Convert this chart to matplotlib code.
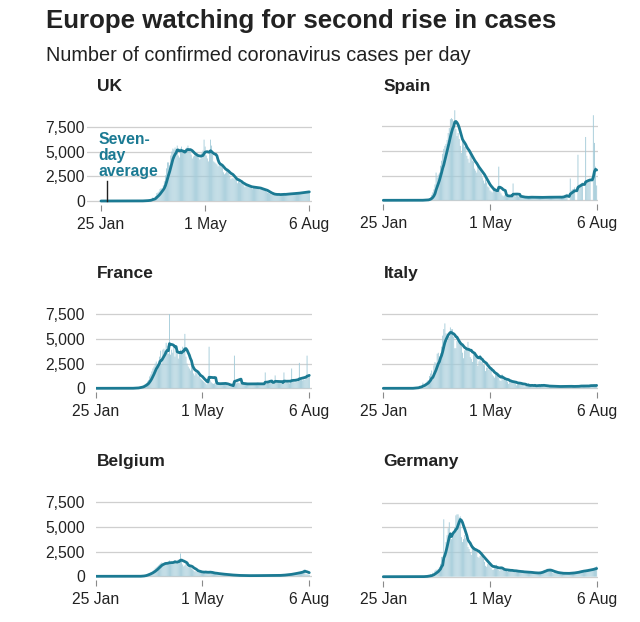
import matplotlib.pyplot as plt
import matplotlib.dates as mdates
import pandas as pd

plt.rcParams['font.family'] = ['Liberation Sans', 'DejaVu Sans']

# one value per day, 25 Jan - 6 Aug 2020 (rows are weeks starting on a Saturday)
dates = pd.date_range('2020-01-25', '2020-08-06')
tick_dates = pd.to_datetime(['2020-01-25', '2020-05-01', '2020-08-06'])
tick_labels = ['25 Jan', '1 May', '6 Aug']
y_ticks = [0, 2500, 5000, 7500]
y_tick_labels = ['0', '2,500', '5,000', '7,500']

uk_daily = [
    0, 0, 0, 0, 0, 0, 2,
    0, 0, 0, 0, 0, 1, 0,
    0, 0, 0, 1, 0, 0, 0,
    0, 0, 0, 0, 0, 0, 0,
    0, 0, 0, 0, 4, 0, 7,
    3, 12, 4, 11, 34, 30, 48,
    43, 67, 46, 83, 134, 208, 342,
    300, 250, 500, 800, 850, 950, 1200,
    1300, 1200, 1600, 2000, 2600, 3300, 3900,
    3900, 3600, 4600, 5000, 5300, 5200, 5400,
    5000, 5600, 4600, 4400, 5300, 5500, 4900,
    5000, 4800, 5300, 5400, 5600, 5200, 5100,
    4700, 4300, 4500, 4600, 4900, 4800, 4500,
    4400, 4200, 4300, 4900, 5100, 6200, 5500,
    4600, 4300, 4000, 4800, 6200, 5600, 4700,
    4000, 3900, 3800, 3700, 3500, 3600, 3700,
    3600, 3400, 2900, 2700, 2800, 3000, 3300,
    3000, 2600, 2200, 2300, 2300, 2200, 2400,
    2100, 1800, 2000, 1900, 1800, 1800, 1700,
    1600, 1400, 1500, 1600, 1500, 1500, 1400,
    1300, 1200, 1400, 1500, 1400, 1350, 1300,
    1200, 1100, 1250, 1200, 1150, 1100, 1050,
    950, 850, 800, 750, 700, 650, 700,
    650, 600, 700, 650, 700, 650, 600,
    700, 650, 720, 700, 680, 740, 700,
    750, 700, 780, 760, 740, 800, 780,
    800, 780, 850, 820, 840, 860, 880,
    900, 880, 950, 920, 960, 980,
]

spain_daily = [
    0, 0, 0, 0, 0, 0, 1,
    0, 0, 0, 0, 0, 0, 0,
    0, 1, 0, 0, 0, 0, 0,
    0, 0, 0, 0, 0, 0, 0,
    0, 0, 0, 0, 4, 8, 11,
    13, 6, 40, 56, 54, 45, 80,
    200, 300, 550, 800, 1100, 1600, 2800,
    2300, 2600, 2800, 3500, 4000, 4700, 5200,
    5500, 5700, 6100, 6800, 7300, 8200, 8300,
    8200, 7500, 9100, 7200, 6500, 6800, 6200,
    5500, 4800, 6200, 5800, 5400, 5500, 4500,
    4200, 3800, 4800, 4500, 4000, 3900, 3200,
    3000, 2800, 3500, 3200, 2900, 2700, 2300,
    2000, 1700, 2100, 1800, 1400, 1300, 1000,
    900, 800, 1100, 1000, 1200, 900, 800,
    3400, 900, 700, 500, 400, 500, 450,
    400, 350, 500, 450, 500, 400, 1700,
    450, 400, 500, 450, 400, 350, 300,
    300, 250, 350, 300, 350, 300, 250,
    350, 300, 350, 320, 300, 280, 250,
    300, 280, 320, 330, 300, 290, 280,
    320, 300, 350, 330, 310, 300, 290,
    300, 330, 350, 340, 320, 310, 300,
    300, 280, 400, 450, 550, 600, 650,
    0, 0, 2200, 1000, 1100, 1150, 1300,
    0, 0, 4600, 1600, 1500, 1700, 1800,
    0, 0, 6400, 2000, 1900, 2000, 2100,
    0, 0, 8600, 5800, 3400, 1500,
]

france_daily = [
    0, 0, 3, 0, 0, 1, 1,
    0, 0, 0, 0, 0, 0, 0,
    5, 0, 0, 0, 0, 0, 0,
    0, 0, 0, 0, 0, 0, 0,
    0, 0, 0, 2, 4, 20, 19,
    43, 30, 61, 21, 73, 138, 190,
    200, 250, 350, 450, 550, 700, 850,
    1200, 1400, 1700, 2000, 2200, 2500, 2700,
    2400, 2800, 3200, 3800, 2500, 3900, 4000,
    3800, 4600, 4300, 3500, 7500, 3400, 3900,
    3600, 4100, 3200, 3800, 3900, 3000, 3600,
    3900, 3700, 4200, 4000, 5500, 3200, 2500,
    2200, 2000, 1800, 2300, 2100, 1500, 1300,
    1600, 1500, 1200, 1300, 1000, 900, 800,
    700, 600, 500, 400, 600, 4200, 800,
    600, 500, 450, 500, 400, 450, 500,
    500, 450, 500, 550, 500, 450, 500,
    350, 300, 250, 200, 300, 250, 200,
    3300, 600, 500, 600, 550, 500, 450,
    450, 400, 450, 500, 450, 400, 450,
    400, 450, 500, 450, 400, 450, 500,
    450, 400, 500, 450, 400, 450, 500,
    1600, 450, 550, 600, 700, 650, 600,
    600, 500, 1300, 550, 600, 650, 600,
    550, 500, 600, 1600, 600, 550, 600,
    550, 500, 650, 2000, 700, 650, 600,
    700, 650, 800, 2570, 900, 850, 800,
    900, 850, 1000, 3300, 1100, 1200,
]

italy_daily = [
    0, 0, 0, 0, 0, 0, 2,
    0, 0, 0, 0, 0, 1, 0,
    0, 0, 0, 0, 0, 0, 0,
    0, 0, 0, 0, 0, 0, 17,
    62, 55, 74, 93, 78, 250, 238,
    240, 566, 342, 466, 587, 769, 778,
    1247, 1492, 1797, 977, 2313, 2651, 2547,
    3497, 3590, 3233, 3526, 4207, 5322, 5986,
    6557, 5560, 4789, 5249, 5210, 6153, 5959,
    5974, 5217, 4050, 4053, 4782, 4668, 4585,
    4805, 4316, 3599, 3039, 3836, 4204, 3951,
    4694, 4092, 3153, 2972, 2667, 3786, 3493,
    3491, 3047, 2256, 2729, 3370, 2646, 3021,
    2357, 2324, 1739, 2091, 2086, 1872, 1965,
    1900, 1389, 1221, 1075, 1444, 1401, 1327,
    1083, 802, 744, 1402, 888, 992, 789,
    875, 675, 451, 813, 665, 642, 652,
    669, 531, 300, 397, 584, 593, 516,
    416, 355, 178, 318, 321, 177, 518,
    270, 197, 280, 283, 202, 379, 163,
    346, 338, 301, 210, 329, 333, 251,
    262, 224, 221, 113, 190, 296, 259,
    175, 174, 126, 142, 187, 201, 223,
    235, 192, 208, 138, 193, 229, 276,
    188, 234, 169, 114, 162, 230, 233,
    249, 219, 190, 129, 282, 306, 252,
    275, 255, 170, 181, 212, 289, 386,
    379, 295, 239, 159, 190, 384,
]

belgium_daily = [
    0, 0, 0, 0, 0, 0, 0,
    0, 0, 0, 1, 0, 0, 0,
    0, 0, 0, 0, 0, 0, 0,
    0, 0, 0, 0, 0, 0, 0,
    0, 0, 0, 0, 0, 0, 0,
    0, 0, 1, 6, 5, 10, 27,
    50, 60, 80, 120, 180, 250, 300,
    350, 400, 450, 550, 650, 800, 900,
    1000, 1100, 1200, 1300, 1400, 1300, 1250,
    1400, 1300, 1200, 1500, 1600, 1400, 1300,
    1400, 1500, 1600, 1300, 1500, 1700, 1500,
    2300, 1600, 1200, 1000, 1100, 1300, 1000,
    900, 1000, 1100, 800, 700, 600, 500,
    500, 450, 400, 600, 450, 350, 300,
    450, 400, 500, 450, 400, 350, 400,
    350, 300, 280, 300, 250, 300, 250,
    250, 200, 220, 200, 180, 190, 170,
    160, 150, 140, 130, 120, 110, 100,
    100, 90, 80, 90, 85, 80, 75,
    70, 65, 75, 70, 60, 65, 70,
    70, 60, 75, 80, 70, 65, 70,
    75, 70, 80, 85, 75, 70, 80,
    80, 75, 85, 90, 80, 85, 90,
    80, 85, 90, 85, 95, 90, 100,
    110, 120, 140, 150, 160, 170, 180,
    180, 190, 250, 260, 280, 300, 320,
    340, 330, 400, 420, 450, 480, 500,
    650, 700, 200, 200, 180, 160,
]

germany_daily = [
    0, 0, 0, 1, 0, 0, 2,
    3, 2, 0, 4, 0, 2, 0,
    0, 0, 0, 0, 0, 2, 0,
    0, 0, 0, 0, 0, 0, 0,
    0, 0, 0, 0, 0, 0, 2,
    10, 20, 35, 50, 30, 80, 150,
    100, 250, 100, 400, 300, 600, 700,
    700, 800, 1000, 1300, 2000, 1700, 5800,
    2500, 3500, 4200, 4900, 5500, 4000, 3800,
    4300, 4600, 5000, 6200, 6300, 6300, 6000,
    6100, 4000, 3500, 3800, 4200, 3900, 3600,
    3000, 2800, 2500, 2200, 2900, 3100, 3000,
    2700, 2400, 2000, 1900, 2100, 2300, 2000,
    1800, 1500, 1100, 1000, 1300, 1400, 1200,
    900, 700, 700, 1000, 1100, 1200, 900,
    700, 600, 800, 900, 700, 600, 700,
    600, 500, 700, 750, 650, 600, 550,
    500, 450, 650, 600, 550, 500, 450,
    450, 400, 500, 550, 500, 450, 400,
    400, 350, 420, 450, 400, 380, 350,
    350, 300, 450, 500, 550, 600, 650,
    700, 600, 800, 700, 650, 600, 500,
    400, 350, 500, 450, 400, 380, 350,
    300, 250, 350, 400, 380, 350, 300,
    300, 280, 400, 450, 450, 420, 380,
    400, 350, 550, 600, 600, 650, 600,
    550, 450, 650, 700, 750, 800, 750,
    700, 600, 850, 900, 950, 1050,
]

countries = ['UK', 'Spain', 'France', 'Italy', 'Belgium', 'Germany']
daily = [uk_daily, spain_daily, france_daily, italy_daily, belgium_daily, germany_daily]

BAR = '#a3cbd9'
LINE = '#1b7a93'
TEXT = '#222222'

W, H = 640, 622
fig = plt.figure(figsize=(W / 100, H / 100), dpi=100)

# pixel layout of each panel: left, right, y of zero line, x-range in days, y label pad
layout = [
    (87, 312, 201.0, (-13, 196.5), 1.5),
    (381.7, 598.3, 200.3, (-1.45, 195.5), None),
    (95.7, 311.8, 388.3, (0, 196.3), 7.7),
    (381.7, 598.3, 388.3, (-1.45, 195.5), None),
    (95.7, 311.8, 576.3, (0, 196.3), 7.7),
    (381.7, 598.3, 576.7, (-1.45, 195.5), None),
]
per_px = 7500 / 74.2
y_lo, y_hi = -400, 9600
x0 = mdates.date2num(dates[0])

for i, (name, values) in enumerate(zip(countries, daily)):
    left, right, zero, (d0, d1), pad = layout[i]
    bottom = zero - y_lo / per_px
    top = zero - y_hi / per_px
    ax = fig.add_axes([left / W, 1 - bottom / H, (right - left) / W, (bottom - top) / H])

    s = pd.Series(values, index=dates)
    avg = s.rolling(7, min_periods=1).mean()
    ax.bar(dates, s.values, width=0.8, color=BAR, linewidth=0, snap=False, zorder=2)
    ax.plot(dates, avg.values, color=LINE, lw=2.0, solid_capstyle='round', zorder=3)

    ax.set_xlim(x0 + d0, x0 + d1)
    ax.set_ylim(y_lo, y_hi)
    ax.set_yticks(y_ticks)
    ax.yaxis.grid(True, color='#cfcfcf', lw=0.9, zorder=0)
    ax.set_axisbelow(True)
    for sp in ax.spines.values():
        sp.set_visible(False)
    ax.set_xticks(mdates.date2num(tick_dates))
    ax.set_xticklabels(tick_labels)
    ax.tick_params(axis='x', length=4.5, width=0.8, color='#8a8a8a', pad=4,
                   labelsize=11.3, labelcolor=TEXT)
    if pad is None:
        ax.tick_params(axis='y', length=0, labelleft=False)
    else:
        ax.set_yticklabels(y_tick_labels)
        ax.tick_params(axis='y', length=0, pad=pad, labelsize=11.3, labelcolor=TEXT)

    col = i % 2
    row = i // 2
    fig.text((96.7 if col == 0 else 383.5) / W, 1 - (90.7 + 187.7 * row) / H, name,
             fontsize=12.5, fontweight='bold', color=TEXT, va='baseline')

    if name == 'UK':
        # label sits above its pointer; baseline refers to the last line here
        ax.text(x0 - 2.2, 2520, 'Seven-\nday\naverage', color=LINE, fontsize=11.3,
                fontweight='bold', va='baseline', ha='left', linespacing=1.1)
        ax.plot([x0 + 5.6, x0 + 5.6], [0, 2000], color=TEXT, lw=1.0, zorder=4)

fig.text(46 / W, 1 - 28.3 / H, 'Europe watching for second rise in cases',
         fontsize=18.6, fontweight='bold', color=TEXT, va='baseline')
fig.text(46 / W, 1 - 61 / H, 'Number of confirmed coronavirus cases per day',
         fontsize=14.3, color=TEXT, va='baseline')

fig.savefig('out.png', dpi=100, facecolor='white')
